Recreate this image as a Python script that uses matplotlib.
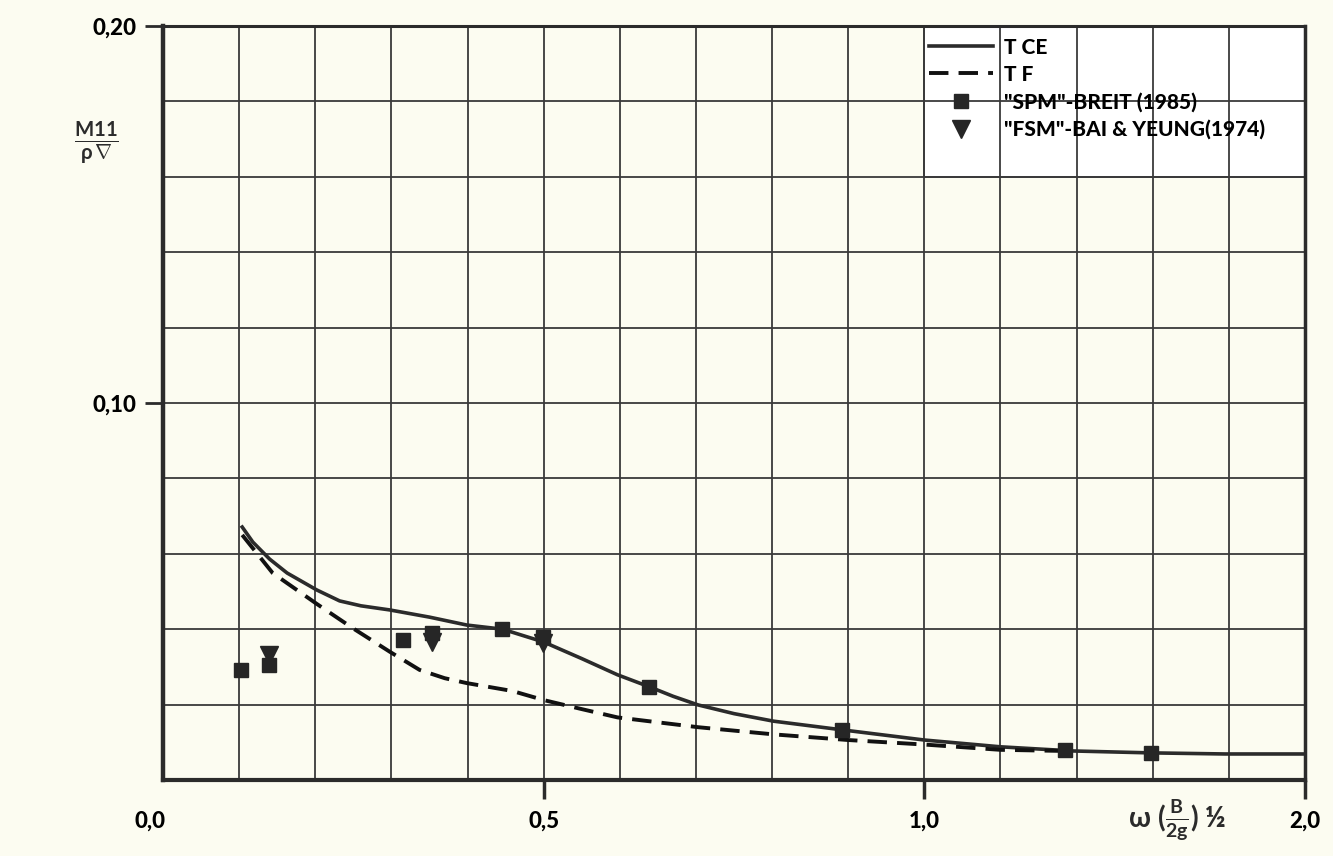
import numpy as np
import matplotlib
matplotlib.use("Agg")
import matplotlib.pyplot as plt
from matplotlib.patches import Rectangle
from matplotlib.transforms import ScaledTranslation

plt.rcParams["mathtext.fontset"] = "custom"
plt.rcParams["mathtext.rm"] = "Lato:bold"
plt.rcParams["mathtext.it"] = "Lato:bold"
plt.rcParams["mathtext.bf"] = "Lato:bold"

# piecewise x axis: 0..1 in steps of 0.1, 1..2 in steps of 0.2 (same width)
def fwd(x):
    x = np.asarray(x, dtype=float)
    return np.where(x <= 1.0, x * 10.0, 10.0 + (x - 1.0) * 5.0)

def inv(u):
    u = np.asarray(u, dtype=float)
    return np.where(u <= 10.0, u / 10.0, 1.0 + (u - 10.0) / 5.0)

# TCE (solid)
tce_x = [0.104, 0.118, 0.14, 0.163, 0.202, 0.232, 0.26, 0.298, 0.35, 0.399, 0.446,
         0.5, 0.55, 0.597, 0.639, 0.67, 0.703, 0.75, 0.802, 0.892, 1.0, 1.2, 1.39,
         1.59, 1.79, 2.0]
tce_y = [0.0671, 0.0631, 0.0586, 0.0549, 0.0504, 0.0475, 0.0462, 0.0451, 0.0432,
         0.0411, 0.0400, 0.0366, 0.0322, 0.0279, 0.0247, 0.0222, 0.0199, 0.0176,
         0.0156, 0.0133, 0.0106, 0.0088, 0.0077, 0.0072, 0.0069, 0.0069]

# TF (dashed)
tf_x = [0.104, 0.144, 0.202, 0.249, 0.298, 0.337, 0.37, 0.399, 0.459, 0.5, 0.55,
        0.597, 0.703, 0.802, 0.9, 1.0, 1.2, 1.37]
tf_y = [0.0650, 0.0549, 0.0467, 0.0403, 0.0340, 0.0292, 0.0270, 0.0257, 0.0236,
        0.0212, 0.0188, 0.0166, 0.0140, 0.0121, 0.0106, 0.0094, 0.0080, 0.0077]

# "SPM" - Breit (1985)
spm_x = [0.102, 0.139, 0.315, 0.353, 0.445, 0.499, 0.638, 0.892, 1.37, 1.596]
spm_y = [0.0292, 0.0305, 0.0371, 0.0390, 0.0400, 0.0379, 0.0247, 0.0133, 0.0080, 0.0072]

# "FSM" - Bai & Yeung (1974)
fsm_x = [0.139, 0.353, 0.499]
fsm_y = [0.0332, 0.0366, 0.0363]

xticks = [0.0, 0.5, 1.0, 2.0]
xticklabels = ["0,0", "0,5", "1,0", "2,0"]
yticks = [0.10, 0.20]
yticklabels = ["0,10", "0,20"]

bg = "#fcfcf1"
ink = "#2b2b2b"
font = "Lato"

fig = plt.figure(figsize=(13.33, 8.56), dpi=100, facecolor=bg)
ax = fig.add_axes([0.1223, 0.0888, 0.8567, 0.8808])
ax.set_facecolor(bg)
ax.set_xscale("function", functions=(fwd, inv))
ax.set_xlim(0, 2.0)
ax.set_ylim(0, 0.20)

grid_x = list(np.round(np.arange(0, 1.0, 0.1), 2)) + [1.0, 1.2, 1.4, 1.6, 1.8, 2.0]
ax.set_xticks(grid_x, minor=True)
ax.set_yticks(np.round(np.arange(0, 0.21, 0.02), 2), minor=True)
ax.grid(which="both", color="#3a3a3a", lw=1.3, zorder=0)
ax.tick_params(which="minor", length=0)

ax.set_xticks(xticks)
ax.set_xticklabels(xticklabels, fontfamily=font, fontweight="black", fontsize=16)
ax.set_yticks(yticks)
ax.set_yticklabels(yticklabels, fontfamily=font, fontweight="black", fontsize=16)
ax.tick_params(which="major", axis="x", length=14, width=2.5, color=ink, pad=8)
ax.tick_params(which="major", axis="y", length=13, width=2, color=ink, pad=6)
ax.xaxis.get_major_ticks()[0].tick1line.set_visible(False)
lab0 = ax.xaxis.get_majorticklabels()[0]
lab0.set_transform(lab0.get_transform() + ScaledTranslation(-0.13, 0, fig.dpi_scale_trans))

for side, w in [("left", 3.2), ("bottom", 3.0), ("top", 2.2), ("right", 2.5)]:
    ax.spines[side].set_linewidth(w)
    ax.spines[side].set_color(ink)

# legend area is white in the original
ax.add_patch(Rectangle((1.0, 0.16), 1.0, 0.04, facecolor="white", edgecolor="#3a3a3a",
                       lw=1.3, zorder=1))

ax.plot(tce_x, tce_y, color=ink, lw=2.6, zorder=3, label="T CE")
ax.plot(tf_x, tf_y, color="#111111", lw=2.8, ls=(0, (5, 2.6)), zorder=3, label="T F")
ax.plot(fsm_x, fsm_y, ls="none", marker="v", ms=13, color="#262626", zorder=4)
ax.plot(spm_x, spm_y, ls="none", marker="s", ms=10, color="#262626", zorder=5,
        label='"SPM"-BREIT (1985)')
fsm_handle, = ax.plot([], [], ls="none", marker="v", ms=13, color="#262626",
                      label='"FSM"-BAI & YEUNG(1974)')

leg = ax.legend(loc="upper left", bbox_to_anchor=(0.667, 0.99), frameon=False,
                handlelength=3.1, handletextpad=0.5, labelspacing=0.38,
                borderaxespad=0, borderpad=0.2,
                prop={"family": font, "weight": "black", "size": 15})

fig.text(0.072, 0.833, r"$\frac{\mathrm{M11}}{\rho\,\nabla}$", fontsize=21, ha="center",
         va="center", color=ink)
fig.text(0.883, 0.042, r"$\omega\ (\frac{B}{2g})$ ½", fontsize=20, ha="center", va="center",
         color=ink, fontweight="black", fontfamily=font)

fig.savefig("out.png", dpi=100, facecolor=bg)
